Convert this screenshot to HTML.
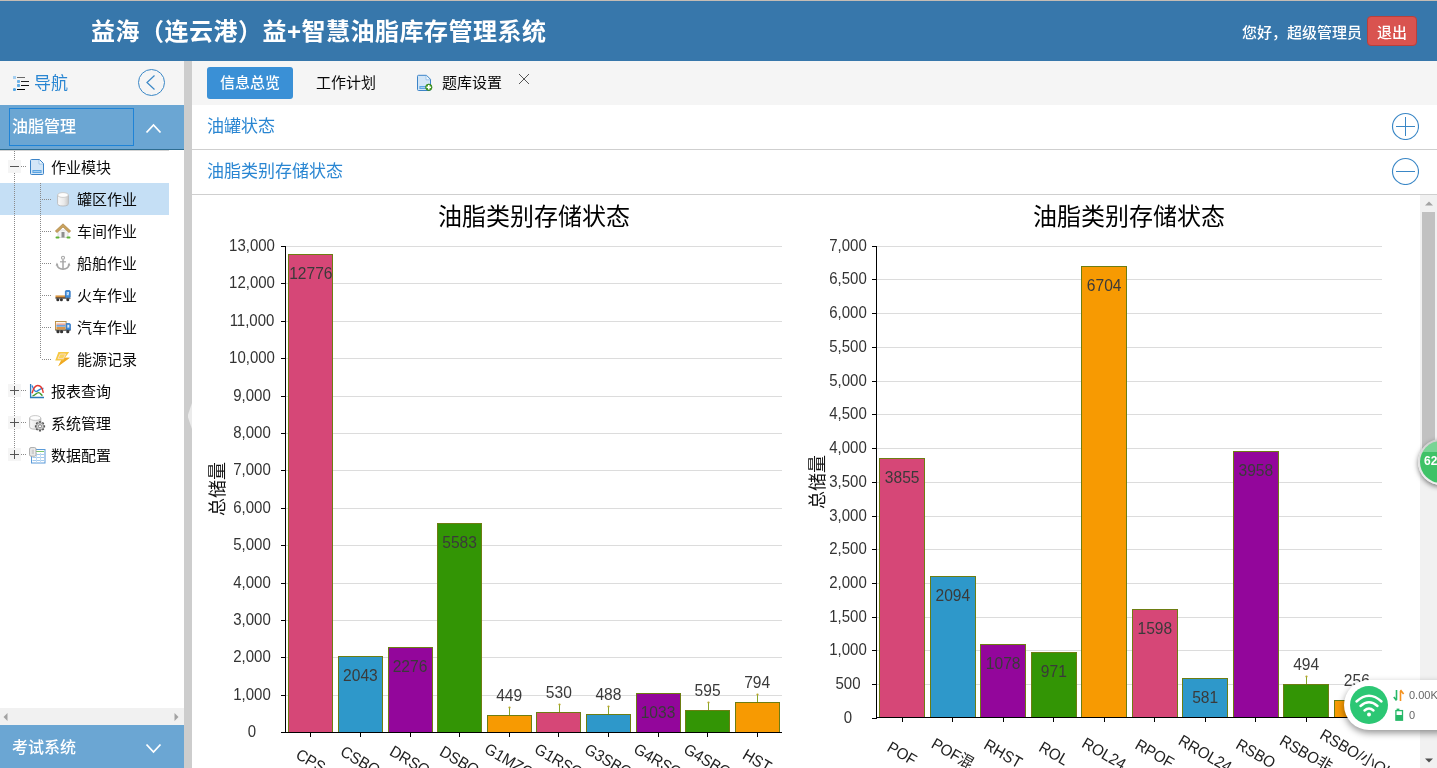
<!DOCTYPE html>
<html lang="zh-CN">
<head>
<meta charset="utf-8">
<title>益海（连云港）益+智慧油脂库存管理系统</title>
<style>
*{box-sizing:border-box;margin:0;padding:0}
html,body{width:1437px;height:768px;overflow:hidden;background:#fff}
body{position:relative;font-family:"Liberation Sans","Noto Sans CJK SC",sans-serif;color:#222;font-size:15px}
.abs{position:absolute}
#hdr{left:0;top:0;width:1437px;height:61px;background:#3777ab;border-top:1px solid #c5bcb4}
#title{left:91px;top:13px;font-size:24px;line-height:36px;font-weight:bold;color:#fff;white-space:nowrap;letter-spacing:0.5px}
#hello{right:75px;top:17px;font-size:15px;line-height:30px;color:#fff;font-weight:500;white-space:nowrap}
#logout{left:1367px;top:15px;width:50px;height:30px;background:#d9534f;border:1px solid #b8403c;border-radius:4px;color:#fff;font-size:15px;line-height:32px;text-align:center;font-weight:500}
#side{left:0;top:61px;width:184px;height:707px;background:#fff}
#navh{left:0;top:0;width:184px;height:44px;background:#f5f5f5}
#navt{left:34px;top:10px;font-size:17px;line-height:26px;color:#2a86d2}
.acc{left:0;width:184px;background:#6ba6d3;color:#fff;font-size:16px}
#acc1{top:44px;height:45px;border-bottom:1px solid #2e6d92}
#acc2{top:664px;height:43px}
#focus{left:9px;top:3px;width:125px;height:38px;border:1px solid #1f83d6}
.acct{left:12px;white-space:nowrap;font-weight:500}
#tree{left:0;top:89px;width:169px;height:557px;overflow:hidden}
.row{left:0;width:169px;height:32px;line-height:32px;font-size:15px;color:#0a0a0a;white-space:nowrap}
.row.sel{background:#c5dff5}
.row span{position:absolute;top:1px}
.vdot{width:1px;background-image:linear-gradient(#8a8a8a 50%,transparent 50%);background-size:1px 2px}
.hdot{height:1px;background-image:linear-gradient(90deg,#8a8a8a 50%,transparent 50%);background-size:2px 1px}
.exp{width:13px;height:13px;background:#f5f5f5}
.exp i{position:absolute;background:#555}
#hsb{left:0;top:647px;width:184px;height:17px;background:#f1f1f1}
#split{left:184px;top:61px;width:8px;height:707px;background:#cdcdcd}
#main{left:192px;top:61px;width:1245px;height:707px;background:#fff}
#tabs{left:0;top:0;width:1245px;height:44px;background:#f5f5f5}
.tab{top:6px;height:32px;line-height:32px;font-size:15px;color:#0a0a0a;white-space:nowrap}
#tab1{left:15px;width:86px;background:#3a90d6;color:#fff;border-radius:3px;text-align:center;font-weight:500}
.pan{left:0;width:1245px;height:45px;border-bottom:1px solid #cfcfcf;background:#fff}
.pan span{position:absolute;left:15px;top:9px;font-size:17px;line-height:26px;color:#2a86d2;white-space:nowrap}
#vsb{left:1420px;top:195px;width:17px;height:573px;background:#f1f1f1}
#thumb{left:2px;top:17px;width:13px;height:250px;background:#c1c1c1}
svg text{font-family:"Liberation Sans","Noto Sans CJK SC",sans-serif}
.yl{font-size:15px;fill:#333}
.vl{font-size:15px;fill:#3a3a3a}
.xl{font-size:15px;fill:#222}
.ct{font-size:24px;fill:#000}
.yt{font-size:18px;fill:#111}
</style>
</head>
<body>
<!-- header -->
<div id="hdr" class="abs">
  <div id="title" class="abs">益海（连云港）益+智慧油脂库存管理系统</div>
  <div id="hello" class="abs">您好，超级管理员</div>
  <div id="logout" class="abs">退出</div>
</div>

<!-- sidebar -->
<div id="side" class="abs">
  <div id="navh" class="abs">
    <svg class="abs" style="left:13px;top:15px" width="17" height="16" viewBox="0 0 17 16">
      <rect x="0" y="0" width="3" height="3" fill="#a5cff0"/><rect x="4" y="4" width="3" height="3" rx="0.8" fill="#6fb4e9"/><rect x="4" y="8" width="3" height="3" rx="0.8" fill="#5dabe6"/><circle cx="1.5" cy="13.5" r="1.6" fill="#4fa4e4"/>
      <rect x="4" y="1" width="8" height="1" fill="#6a6a6a"/><rect x="8" y="5" width="8" height="1" fill="#222"/><rect x="8" y="9" width="8" height="1" fill="#111"/><rect x="4" y="13" width="8" height="1" fill="#000"/>
    </svg>
    <div id="navt" class="abs">导航</div>
    <svg class="abs" style="left:138px;top:8px" width="28" height="28" viewBox="0 0 28 28"><circle cx="13.5" cy="13.5" r="13" fill="none" stroke="#3a87c6" stroke-width="1"/><path d="M16.5 6.5 L9 13.5 L16.5 20.5" fill="none" stroke="#3a87c6" stroke-width="1.2"/></svg>
  </div>
  <div id="acc1" class="abs acc">
    <div id="focus" class="abs"></div>
    <div class="abs acct" style="top:9px;line-height:26px">油脂管理</div>
    <svg class="abs" style="left:145px;top:18px" width="17" height="11" viewBox="0 0 17 11"><path d="M1.5 9.5 L8.5 2 L15.5 9.5" fill="none" stroke="#fff" stroke-width="1.8"/></svg>
  </div>
  <div class="abs" style="left:0;top:89px;width:169px;height:1px;background:#d4d4d4"></div>
  <div id="tree" class="abs">
    <div class="abs" style="left:0;top:33px;width:169px;height:32px;background:#c5dff5"></div>
    <div class="abs vdot" style="left:14px;top:1px;height:299px"></div>
    <div class="abs vdot" style="left:40px;top:33px;height:176px"></div>
    <div class="abs row" style="top:1px"><div class="abs exp" style="left:8px;top:9px"><i style="left:2px;top:6px;width:9px;height:1px"></i></div><div class="abs hdot" style="left:21px;top:15px;width:5px"></div><svg class="abs" style="left:29px;top:8px" width="16" height="16" viewBox="0 0 16 16"><path d="M1.5 1.5 Q1.5 0.5 2.5 0.5 H10.5 L14.5 4.5 V14.5 Q14.5 15.5 13.5 15.5 H2.5 Q1.5 15.5 1.5 14.5Z" fill="#d3e6f7" stroke="#3c84c8" stroke-width="1"/><path d="M10 1 V5 H14" fill="#f2f8fd" stroke="#8fbde6" stroke-width="0.8"/><rect x="3.4" y="11" width="9.2" height="3" fill="#5ba4e2"/><rect x="4.4" y="12" width="7.2" height="1" fill="#a6cff2"/></svg><span style="left:51px">作业模块</span></div>
    <div class="abs row" style="top:33px"><div class="abs hdot" style="left:42px;top:16px;width:9px"></div><svg class="abs" style="left:55px;top:8px" width="16" height="16" viewBox="0 0 16 16"><defs><linearGradient id="cg" x1="0" x2="1"><stop offset="0" stop-color="#fafafa"/><stop offset="0.6" stop-color="#e9e9e9"/><stop offset="1" stop-color="#c9c9c9"/></linearGradient></defs><path d="M2.6 4 V12.6 Q2.6 15 8 15 Q13.4 15 13.4 12.6 V4Z" fill="url(#cg)" stroke="#b5b5b5" stroke-width="0.8"/><ellipse cx="8" cy="4" rx="5.4" ry="2.4" fill="#fdfdfd" stroke="#c4c4c4" stroke-width="0.8"/></svg><span style="left:77px">罐区作业</span></div>
    <div class="abs row" style="top:65px"><div class="abs hdot" style="left:42px;top:16px;width:9px"></div><svg class="abs" style="left:55px;top:8px" width="16" height="16" viewBox="0 0 16 16"><rect x="3" y="7" width="10" height="7.5" fill="#f4f4f4" stroke="#c9c9c9" stroke-width="0.6"/><rect x="6.5" y="9" width="3" height="5.5" fill="#8e8e8e"/><path d="M0.3 8 L8 0.8 L15.7 8 L14 9.6 L8 4 L2 9.6Z" fill="#c9a25e" stroke="#a57b35" stroke-width="0.6"/><rect x="0.5" y="13.5" width="4" height="2" rx="1" fill="#5fb336"/><rect x="11.5" y="13.5" width="4" height="2" rx="1" fill="#5fb336"/></svg><span style="left:77px">车间作业</span></div>
    <div class="abs row" style="top:97px"><div class="abs hdot" style="left:42px;top:16px;width:9px"></div><svg class="abs" style="left:55px;top:8px" width="16" height="16" viewBox="0 0 16 16"><g fill="none" stroke="#a6a6a6" stroke-width="1.5"><circle cx="8" cy="2.8" r="1.5" stroke-width="1.1"/><path d="M8 4.4 V14"/><path d="M5 6.8 H11" stroke-width="1.2"/><path d="M1.8 9.4 Q2.6 14 8 14.2 Q13.4 14 14.2 9.4"/></g><path d="M0.6 10.6 L1.9 7.6 L3.6 10.4Z M15.4 10.6 L14.1 7.6 L12.4 10.4Z" fill="#a6a6a6"/></svg><span style="left:77px">船舶作业</span></div>
    <div class="abs row" style="top:129px"><div class="abs hdot" style="left:42px;top:16px;width:9px"></div><svg class="abs" style="left:55px;top:8px" width="16" height="16" viewBox="0 0 16 16"><rect x="0.5" y="8.4" width="10.5" height="1.6" fill="#d9953f"/><rect x="0.5" y="10" width="10.5" height="0.9" fill="#7a4a1c"/><rect x="10.4" y="3.6" width="4.8" height="7.2" rx="0.8" fill="#3d8ddb" stroke="#2a6fbd" stroke-width="0.8"/><path d="M11.7 5 H13.9 V8.2 H11.7Z" fill="#dcebfa"/><path d="M12 5.2 L13.6 8" stroke="#7fb1e6" stroke-width="0.6"/><rect x="0.5" y="10.8" width="15" height="1" fill="#555"/><circle cx="2.8" cy="12.7" r="1.5" fill="#333"/><circle cx="6.4" cy="12.7" r="1.5" fill="#333"/><circle cx="12.8" cy="12.7" r="1.5" fill="#333"/></svg><span style="left:77px">火车作业</span></div>
    <div class="abs row" style="top:161px"><div class="abs hdot" style="left:42px;top:16px;width:9px"></div><svg class="abs" style="left:55px;top:8px" width="16" height="16" viewBox="0 0 16 16"><rect x="0.5" y="2.5" width="10.6" height="8.2" fill="#fbf6ea" stroke="#b98a3e" stroke-width="0.9"/><rect x="1.4" y="4.6" width="8.8" height="1.1" fill="#e58b7a"/><rect x="1.4" y="6.2" width="8.8" height="1.4" fill="#4f8fd8"/><rect x="1.4" y="8" width="8.8" height="2" fill="#d9954a"/><path d="M11.2 4.6 H14.4 Q15.4 4.6 15.4 5.6 V11 H11.2Z" fill="#3d8ddb" stroke="#2a6fbd" stroke-width="0.8"/><path d="M12.3 5.8 H14.3 V8.6 H12.3Z" fill="#dcebfa"/><rect x="0.5" y="10.8" width="15" height="1" fill="#555"/><circle cx="3" cy="12.7" r="1.6" fill="#333"/><circle cx="6.6" cy="12.7" r="1.6" fill="#333"/><circle cx="12.8" cy="12.7" r="1.6" fill="#333"/></svg><span style="left:77px">汽车作业</span></div>
    <div class="abs row" style="top:193px"><div class="abs hdot" style="left:42px;top:16px;width:9px"></div><svg class="abs" style="left:55px;top:8px" width="16" height="16" viewBox="0 0 16 16"><path d="M3.4 1 H14.2 L10 6.8 H14.8 L3.2 15.2 L6.2 9.4 H0.2Z" fill="#f6c943"/><path d="M10 6.8 H14.8 L3.2 15.2 L6.2 9.4 H8.2Z" fill="#eea21c" opacity="0.85"/><path d="M5.2 3 H10.6 L8.4 7.6 H3Z" fill="#f8d35e" stroke="#f9dcc6" stroke-width="0.9"/></svg><span style="left:77px">能源记录</span></div>
    <div class="abs row" style="top:225px"><div class="abs exp" style="left:8px;top:9px"><i style="left:2px;top:6px;width:9px;height:1px"></i><i style="left:6px;top:2px;width:1px;height:9px"></i></div><div class="abs hdot" style="left:21px;top:15px;width:5px"></div><svg class="abs" style="left:29px;top:8px" width="16" height="16" viewBox="0 0 16 16"><path d="M1.6 1 V14.5 H15" fill="none" stroke="#2b7ab9" stroke-width="1.3"/><path d="M3 2.6 C4 5 5.5 8.6 7 8.6 C9 8.6 10.5 5 14.5 5.4" fill="none" stroke="#2f86d8" stroke-width="1.4"/><path d="M3 10.2 C4.5 5 6.5 2.5 8.8 2.5 C11 2.5 13.5 4.5 14.3 9.8" fill="none" stroke="#e3382f" stroke-width="1.4"/><path d="M3.5 12.7 C6 12.7 7.5 9.6 9.5 9.6 C11.5 9.6 12 12 13.5 12.7" fill="none" stroke="#3f9a2c" stroke-width="1.4"/></svg><span style="left:51px">报表查询</span></div>
    <div class="abs row" style="top:257px"><div class="abs exp" style="left:8px;top:9px"><i style="left:2px;top:6px;width:9px;height:1px"></i><i style="left:6px;top:2px;width:1px;height:9px"></i></div><div class="abs hdot" style="left:21px;top:15px;width:5px"></div><svg class="abs" style="left:29px;top:8px" width="17" height="17" viewBox="0 0 17 17"><path d="M0.6 3 V11.6 Q0.6 14.2 6.2 14.2 Q11.8 14.2 11.8 11.6 V3Z" fill="url(#cg)" stroke="#a9a9a9" stroke-width="0.8"/><ellipse cx="6.2" cy="3" rx="5.6" ry="2.4" fill="#fdfdfd" stroke="#bbb" stroke-width="0.8"/><g transform="translate(11 11.3)"><g fill="#555"><rect x="-1.1" y="-5.1" width="2.2" height="2.6" rx="0.5" transform="rotate(0)"/><rect x="-1.1" y="-5.1" width="2.2" height="2.6" rx="0.5" transform="rotate(45)"/><rect x="-1.1" y="-5.1" width="2.2" height="2.6" rx="0.5" transform="rotate(90)"/><rect x="-1.1" y="-5.1" width="2.2" height="2.6" rx="0.5" transform="rotate(135)"/><rect x="-1.1" y="-5.1" width="2.2" height="2.6" rx="0.5" transform="rotate(180)"/><rect x="-1.1" y="-5.1" width="2.2" height="2.6" rx="0.5" transform="rotate(225)"/><rect x="-1.1" y="-5.1" width="2.2" height="2.6" rx="0.5" transform="rotate(270)"/><rect x="-1.1" y="-5.1" width="2.2" height="2.6" rx="0.5" transform="rotate(315)"/></g><circle r="3.5" fill="#dadada" stroke="#8c8c8c" stroke-width="0.8"/><circle r="1.6" fill="#fff" stroke="#787878" stroke-width="0.9"/></g></svg><span style="left:51px">系统管理</span></div>
    <div class="abs row" style="top:289px"><div class="abs exp" style="left:8px;top:9px"><i style="left:2px;top:6px;width:9px;height:1px"></i><i style="left:6px;top:2px;width:1px;height:9px"></i></div><div class="abs hdot" style="left:21px;top:15px;width:5px"></div><svg class="abs" style="left:29px;top:8px" width="17" height="17" viewBox="0 0 17 17"><rect x="2.5" y="2.5" width="13.5" height="13.5" fill="#fff" stroke="#5a9ad9" stroke-width="1"/><rect x="7" y="4" width="8" height="1" fill="#7cc66a"/><g stroke="#a3caee" stroke-width="1"><path d="M3.5 7.5 H15 M3.5 10.5 H15 M3.5 13.5 H15"/><path d="M7.5 6 V15.5 M11.5 6 V15.5" stroke="#c3dcf4"/></g><rect x="0.6" y="0.6" width="6.4" height="8.6" rx="1.4" fill="#ececec" stroke="#a2a2a2" stroke-width="0.9"/><rect x="2.6" y="2.6" width="2.4" height="4.6" fill="#cfcfcf"/></svg><span style="left:51px">数据配置</span></div>
  </div>
  <div id="hsb" class="abs">
    <svg class="abs" style="left:3px;top:5px" width="5" height="8" viewBox="0 0 5 8"><path d="M4.5 0 L0.5 4 L4.5 8Z" fill="#a3a3a3"/></svg>
    <svg class="abs" style="left:174px;top:5px" width="5" height="8" viewBox="0 0 5 8"><path d="M0.5 0 L4.5 4 L0.5 8Z" fill="#a3a3a3"/></svg>
  </div>
  <div id="acc2" class="abs acc">
    <div class="abs acct" style="top:10px;line-height:26px">考试系统</div>
    <svg class="abs" style="left:145px;top:18px" width="17" height="11" viewBox="0 0 17 11"><path d="M1.5 1.5 L8.5 9 L15.5 1.5" fill="none" stroke="#fff" stroke-width="1.8"/></svg>
  </div>
</div>

<div id="split" class="abs"><div class="abs" style="left:3.5px;top:342px;width:4.5px;height:26px;background:#ebebeb;clip-path:polygon(100% 0,0 50%,100% 100%)"></div></div>

<!-- main -->
<div id="main" class="abs">
  <div id="tabs" class="abs">
    <div id="tab1" class="abs tab">信息总览</div>
    <div class="abs tab" style="left:124px">工作计划</div>
    <div class="abs tab" style="left:250px">题库设置</div>
    <svg class="abs" style="left:224px;top:13px" width="18" height="18" viewBox="0 0 18 18"><path d="M1.5 2.3 Q1.5 1.3 2.5 1.3 H10.5 L14.5 5.3 V15.5 Q14.5 16.5 13.5 16.5 H2.5 Q1.5 16.5 1.5 15.5Z" fill="#d3e6f7" stroke="#3c84c8" stroke-width="1"/><path d="M10 1.8 V5.8 H14" fill="#f2f8fd" stroke="#8fbde6" stroke-width="0.8"/><rect x="3.4" y="12" width="9.2" height="3" fill="#5ba4e2"/><rect x="4.4" y="13" width="7.2" height="1" fill="#a6cff2"/><circle cx="12.8" cy="13.3" r="3.2" fill="#4aa22a" stroke="#2f7d18" stroke-width="0.7"/><path d="M10.6 13.3 H15 M12.8 11.1 V15.5" stroke="#fff" stroke-width="1.6"/></svg>
    <svg class="abs" style="left:326px;top:12px" width="12" height="12" viewBox="0 0 12 12"><path d="M1 1 L11 11 M11 1 L1 11" stroke="#555" stroke-width="1" fill="none"/></svg>
  </div>
  <div class="abs pan" style="top:44px"><span>油罐状态</span>
    <svg class="abs" style="left:1199px;top:7px" width="28" height="28" viewBox="0 0 28 28"><circle cx="14.5" cy="14.5" r="13" fill="none" stroke="#3a87c6" stroke-width="1.15"/><path d="M5 14.5 H24 M14.5 5 V24" stroke="#3a87c6" stroke-width="1" fill="none"/></svg>
  </div>
  <div class="abs pan" style="top:89px"><span>油脂类别存储状态</span>
    <svg class="abs" style="left:1199px;top:7px" width="28" height="28" viewBox="0 0 28 28"><circle cx="14.5" cy="14.5" r="13" fill="none" stroke="#3a87c6" stroke-width="1.15"/><path d="M5 14.5 H24" stroke="#3a87c6" stroke-width="1" fill="none"/></svg>
  </div>
</div>

<!-- charts (page coordinates) -->
<svg class="abs" style="left:0;top:195px" width="1420" height="573" viewBox="0 195 1420 573">
<line x1="281" y1="732.5" x2="286" y2="732.5" stroke="#000" stroke-width="1"/>
<text transform="translate(252,737.0) scale(1,1.07)" text-anchor="middle" class="yl">0</text>
<line x1="286" y1="695.5" x2="782" y2="695.5" stroke="#dcdcdc" stroke-width="1"/>
<line x1="281" y1="695.5" x2="286" y2="695.5" stroke="#000" stroke-width="1"/>
<text transform="translate(252,700.0) scale(1,1.07)" text-anchor="middle" class="yl">1,000</text>
<line x1="286" y1="657.5" x2="782" y2="657.5" stroke="#dcdcdc" stroke-width="1"/>
<line x1="281" y1="657.5" x2="286" y2="657.5" stroke="#000" stroke-width="1"/>
<text transform="translate(252,662.0) scale(1,1.07)" text-anchor="middle" class="yl">2,000</text>
<line x1="286" y1="620.5" x2="782" y2="620.5" stroke="#dcdcdc" stroke-width="1"/>
<line x1="281" y1="620.5" x2="286" y2="620.5" stroke="#000" stroke-width="1"/>
<text transform="translate(252,625.0) scale(1,1.07)" text-anchor="middle" class="yl">3,000</text>
<line x1="286" y1="583.5" x2="782" y2="583.5" stroke="#dcdcdc" stroke-width="1"/>
<line x1="281" y1="583.5" x2="286" y2="583.5" stroke="#000" stroke-width="1"/>
<text transform="translate(252,588.0) scale(1,1.07)" text-anchor="middle" class="yl">4,000</text>
<line x1="286" y1="545.5" x2="782" y2="545.5" stroke="#dcdcdc" stroke-width="1"/>
<line x1="281" y1="545.5" x2="286" y2="545.5" stroke="#000" stroke-width="1"/>
<text transform="translate(252,550.0) scale(1,1.07)" text-anchor="middle" class="yl">5,000</text>
<line x1="286" y1="508.5" x2="782" y2="508.5" stroke="#dcdcdc" stroke-width="1"/>
<line x1="281" y1="508.5" x2="286" y2="508.5" stroke="#000" stroke-width="1"/>
<text transform="translate(252,513.0) scale(1,1.07)" text-anchor="middle" class="yl">6,000</text>
<line x1="286" y1="470.5" x2="782" y2="470.5" stroke="#dcdcdc" stroke-width="1"/>
<line x1="281" y1="470.5" x2="286" y2="470.5" stroke="#000" stroke-width="1"/>
<text transform="translate(252,475.0) scale(1,1.07)" text-anchor="middle" class="yl">7,000</text>
<line x1="286" y1="433.5" x2="782" y2="433.5" stroke="#dcdcdc" stroke-width="1"/>
<line x1="281" y1="433.5" x2="286" y2="433.5" stroke="#000" stroke-width="1"/>
<text transform="translate(252,438.0) scale(1,1.07)" text-anchor="middle" class="yl">8,000</text>
<line x1="286" y1="396.5" x2="782" y2="396.5" stroke="#dcdcdc" stroke-width="1"/>
<line x1="281" y1="396.5" x2="286" y2="396.5" stroke="#000" stroke-width="1"/>
<text transform="translate(252,401.0) scale(1,1.07)" text-anchor="middle" class="yl">9,000</text>
<line x1="286" y1="358.5" x2="782" y2="358.5" stroke="#dcdcdc" stroke-width="1"/>
<line x1="281" y1="358.5" x2="286" y2="358.5" stroke="#000" stroke-width="1"/>
<text transform="translate(252,363.0) scale(1,1.07)" text-anchor="middle" class="yl">10,000</text>
<line x1="286" y1="321.5" x2="782" y2="321.5" stroke="#dcdcdc" stroke-width="1"/>
<line x1="281" y1="321.5" x2="286" y2="321.5" stroke="#000" stroke-width="1"/>
<text transform="translate(252,326.0) scale(1,1.07)" text-anchor="middle" class="yl">11,000</text>
<line x1="286" y1="283.5" x2="782" y2="283.5" stroke="#dcdcdc" stroke-width="1"/>
<line x1="281" y1="283.5" x2="286" y2="283.5" stroke="#000" stroke-width="1"/>
<text transform="translate(252,288.0) scale(1,1.07)" text-anchor="middle" class="yl">12,000</text>
<line x1="286" y1="246.5" x2="782" y2="246.5" stroke="#dcdcdc" stroke-width="1"/>
<line x1="281" y1="246.5" x2="286" y2="246.5" stroke="#000" stroke-width="1"/>
<text transform="translate(252,251.0) scale(1,1.07)" text-anchor="middle" class="yl">13,000</text>
<rect x="288.5" y="254.5" width="44" height="478" fill="#d64777" stroke="#6d7d12" stroke-width="1"/>
<text transform="translate(310.8,278.5) scale(1.04,1.07)" text-anchor="middle" class="vl">12776</text>
<line x1="310.5" y1="732.5" x2="310.5" y2="737" stroke="#000" stroke-width="1"/>
<text transform="translate(310.8,760.6) rotate(30) scale(1,1.07)" text-anchor="middle" y="5.2" class="xl">CPS</text>
<rect x="338.5" y="656.5" width="44" height="76" fill="#2e98ca" stroke="#6d7d12" stroke-width="1"/>
<text transform="translate(360.4,680.5) scale(1.04,1.07)" text-anchor="middle" class="vl">2043</text>
<line x1="360.5" y1="732.5" x2="360.5" y2="737" stroke="#000" stroke-width="1"/>
<text transform="translate(360.4,760.6) rotate(30) scale(1,1.07)" text-anchor="middle" y="5.2" class="xl">CSBO</text>
<rect x="388.5" y="647.5" width="44" height="85" fill="#93069b" stroke="#6d7d12" stroke-width="1"/>
<text transform="translate(410.0,671.5) scale(1.04,1.07)" text-anchor="middle" class="vl">2276</text>
<line x1="410.5" y1="732.5" x2="410.5" y2="737" stroke="#000" stroke-width="1"/>
<text transform="translate(410.0,760.6) rotate(30) scale(1,1.07)" text-anchor="middle" y="5.2" class="xl">DRSO</text>
<rect x="437.5" y="523.5" width="44" height="209" fill="#339505" stroke="#6d7d12" stroke-width="1"/>
<text transform="translate(459.6,547.5) scale(1.04,1.07)" text-anchor="middle" class="vl">5583</text>
<line x1="459.5" y1="732.5" x2="459.5" y2="737" stroke="#000" stroke-width="1"/>
<text transform="translate(459.6,760.6) rotate(30) scale(1,1.07)" text-anchor="middle" y="5.2" class="xl">DSBO</text>
<rect x="487.5" y="715.5" width="44" height="17" fill="#f79a02" stroke="#6d7d12" stroke-width="1"/>
<line x1="509.5" y1="715" x2="509.5" y2="708" stroke="#86a52a" stroke-width="1"/>
<circle cx="509.5" cy="707.5" r="1.1" fill="#b8a62a"/>
<text transform="translate(509.2,700.5) scale(1.04,1.07)" text-anchor="middle" class="vl">449</text>
<line x1="509.5" y1="732.5" x2="509.5" y2="737" stroke="#000" stroke-width="1"/>
<text transform="translate(509.2,760.6) rotate(30) scale(1,1.07)" text-anchor="middle" y="5.2" class="xl">G1MZO</text>
<rect x="536.5" y="712.5" width="44" height="20" fill="#d64777" stroke="#6d7d12" stroke-width="1"/>
<line x1="559.5" y1="712" x2="559.5" y2="705" stroke="#86a52a" stroke-width="1"/>
<circle cx="559.5" cy="704.5" r="1.1" fill="#b8a62a"/>
<text transform="translate(558.8,697.5) scale(1.04,1.07)" text-anchor="middle" class="vl">530</text>
<line x1="558.5" y1="732.5" x2="558.5" y2="737" stroke="#000" stroke-width="1"/>
<text transform="translate(558.8,760.6) rotate(30) scale(1,1.07)" text-anchor="middle" y="5.2" class="xl">G1RSO</text>
<rect x="586.5" y="714.5" width="44" height="18" fill="#2e98ca" stroke="#6d7d12" stroke-width="1"/>
<line x1="608.5" y1="714" x2="608.5" y2="707" stroke="#86a52a" stroke-width="1"/>
<circle cx="608.5" cy="706.5" r="1.1" fill="#b8a62a"/>
<text transform="translate(608.4,699.5) scale(1.04,1.07)" text-anchor="middle" class="vl">488</text>
<line x1="608.5" y1="732.5" x2="608.5" y2="737" stroke="#000" stroke-width="1"/>
<text transform="translate(608.4,760.6) rotate(30) scale(1,1.07)" text-anchor="middle" y="5.2" class="xl">G3SBO</text>
<rect x="636.5" y="693.5" width="44" height="39" fill="#93069b" stroke="#6d7d12" stroke-width="1"/>
<text transform="translate(658.0,717.5) scale(1.04,1.07)" text-anchor="middle" class="vl">1033</text>
<line x1="658.5" y1="732.5" x2="658.5" y2="737" stroke="#000" stroke-width="1"/>
<text transform="translate(658.0,760.6) rotate(30) scale(1,1.07)" text-anchor="middle" y="5.2" class="xl">G4RSO</text>
<rect x="685.5" y="710.5" width="44" height="22" fill="#339505" stroke="#6d7d12" stroke-width="1"/>
<line x1="708.5" y1="710" x2="708.5" y2="703" stroke="#86a52a" stroke-width="1"/>
<circle cx="708.5" cy="702.5" r="1.1" fill="#b8a62a"/>
<text transform="translate(707.6,695.5) scale(1.04,1.07)" text-anchor="middle" class="vl">595</text>
<line x1="707.5" y1="732.5" x2="707.5" y2="737" stroke="#000" stroke-width="1"/>
<text transform="translate(707.6,760.6) rotate(30) scale(1,1.07)" text-anchor="middle" y="5.2" class="xl">G4SBO</text>
<rect x="735.5" y="702.5" width="44" height="30" fill="#f79a02" stroke="#6d7d12" stroke-width="1"/>
<line x1="757.5" y1="702" x2="757.5" y2="695" stroke="#86a52a" stroke-width="1"/>
<circle cx="757.5" cy="694.5" r="1.1" fill="#b8a62a"/>
<text transform="translate(757.2,687.5) scale(1.04,1.07)" text-anchor="middle" class="vl">794</text>
<line x1="757.5" y1="732.5" x2="757.5" y2="737" stroke="#000" stroke-width="1"/>
<text transform="translate(757.2,760.6) rotate(30) scale(1,1.07)" text-anchor="middle" y="5.2" class="xl">HST</text>
<line x1="285.5" y1="246" x2="285.5" y2="733" stroke="#000" stroke-width="1"/>
<line x1="285" y1="732.5" x2="782" y2="732.5" stroke="#000" stroke-width="1"/>
<text x="534" y="225" text-anchor="middle" class="ct">油脂类别存储状态</text>
<text transform="translate(224,489) rotate(-90)" text-anchor="middle" class="yt">总储量</text>
<line x1="872" y1="718.5" x2="877" y2="718.5" stroke="#000" stroke-width="1"/>
<text transform="translate(848,723.0) scale(1,1.07)" text-anchor="middle" class="yl">0</text>
<line x1="877" y1="684.5" x2="1382" y2="684.5" stroke="#dcdcdc" stroke-width="1"/>
<line x1="872" y1="684.5" x2="877" y2="684.5" stroke="#000" stroke-width="1"/>
<text transform="translate(848,689.0) scale(1,1.07)" text-anchor="middle" class="yl">500</text>
<line x1="877" y1="650.5" x2="1382" y2="650.5" stroke="#dcdcdc" stroke-width="1"/>
<line x1="872" y1="650.5" x2="877" y2="650.5" stroke="#000" stroke-width="1"/>
<text transform="translate(848,655.0) scale(1,1.07)" text-anchor="middle" class="yl">1,000</text>
<line x1="877" y1="617.5" x2="1382" y2="617.5" stroke="#dcdcdc" stroke-width="1"/>
<line x1="872" y1="617.5" x2="877" y2="617.5" stroke="#000" stroke-width="1"/>
<text transform="translate(848,622.0) scale(1,1.07)" text-anchor="middle" class="yl">1,500</text>
<line x1="877" y1="583.5" x2="1382" y2="583.5" stroke="#dcdcdc" stroke-width="1"/>
<line x1="872" y1="583.5" x2="877" y2="583.5" stroke="#000" stroke-width="1"/>
<text transform="translate(848,588.0) scale(1,1.07)" text-anchor="middle" class="yl">2,000</text>
<line x1="877" y1="549.5" x2="1382" y2="549.5" stroke="#dcdcdc" stroke-width="1"/>
<line x1="872" y1="549.5" x2="877" y2="549.5" stroke="#000" stroke-width="1"/>
<text transform="translate(848,554.0) scale(1,1.07)" text-anchor="middle" class="yl">2,500</text>
<line x1="877" y1="516.5" x2="1382" y2="516.5" stroke="#dcdcdc" stroke-width="1"/>
<line x1="872" y1="516.5" x2="877" y2="516.5" stroke="#000" stroke-width="1"/>
<text transform="translate(848,521.0) scale(1,1.07)" text-anchor="middle" class="yl">3,000</text>
<line x1="877" y1="482.5" x2="1382" y2="482.5" stroke="#dcdcdc" stroke-width="1"/>
<line x1="872" y1="482.5" x2="877" y2="482.5" stroke="#000" stroke-width="1"/>
<text transform="translate(848,487.0) scale(1,1.07)" text-anchor="middle" class="yl">3,500</text>
<line x1="877" y1="448.5" x2="1382" y2="448.5" stroke="#dcdcdc" stroke-width="1"/>
<line x1="872" y1="448.5" x2="877" y2="448.5" stroke="#000" stroke-width="1"/>
<text transform="translate(848,453.0) scale(1,1.07)" text-anchor="middle" class="yl">4,000</text>
<line x1="877" y1="414.5" x2="1382" y2="414.5" stroke="#dcdcdc" stroke-width="1"/>
<line x1="872" y1="414.5" x2="877" y2="414.5" stroke="#000" stroke-width="1"/>
<text transform="translate(848,419.0) scale(1,1.07)" text-anchor="middle" class="yl">4,500</text>
<line x1="877" y1="381.5" x2="1382" y2="381.5" stroke="#dcdcdc" stroke-width="1"/>
<line x1="872" y1="381.5" x2="877" y2="381.5" stroke="#000" stroke-width="1"/>
<text transform="translate(848,386.0) scale(1,1.07)" text-anchor="middle" class="yl">5,000</text>
<line x1="877" y1="347.5" x2="1382" y2="347.5" stroke="#dcdcdc" stroke-width="1"/>
<line x1="872" y1="347.5" x2="877" y2="347.5" stroke="#000" stroke-width="1"/>
<text transform="translate(848,352.0) scale(1,1.07)" text-anchor="middle" class="yl">5,500</text>
<line x1="877" y1="313.5" x2="1382" y2="313.5" stroke="#dcdcdc" stroke-width="1"/>
<line x1="872" y1="313.5" x2="877" y2="313.5" stroke="#000" stroke-width="1"/>
<text transform="translate(848,318.0) scale(1,1.07)" text-anchor="middle" class="yl">6,000</text>
<line x1="877" y1="279.5" x2="1382" y2="279.5" stroke="#dcdcdc" stroke-width="1"/>
<line x1="872" y1="279.5" x2="877" y2="279.5" stroke="#000" stroke-width="1"/>
<text transform="translate(848,284.0) scale(1,1.07)" text-anchor="middle" class="yl">6,500</text>
<line x1="877" y1="246.5" x2="1382" y2="246.5" stroke="#dcdcdc" stroke-width="1"/>
<line x1="872" y1="246.5" x2="877" y2="246.5" stroke="#000" stroke-width="1"/>
<text transform="translate(848,251.0) scale(1,1.07)" text-anchor="middle" class="yl">7,000</text>
<rect x="879.5" y="458.5" width="45" height="259" fill="#d64777" stroke="#6d7d12" stroke-width="1"/>
<text transform="translate(902.2,482.5) scale(1.04,1.07)" text-anchor="middle" class="vl">3855</text>
<line x1="902.5" y1="717.5" x2="902.5" y2="722" stroke="#000" stroke-width="1"/>
<text transform="translate(902.2,753.5) rotate(30) scale(1,1.07)" text-anchor="middle" y="5.2" class="xl">POF</text>
<rect x="930.5" y="576.5" width="45" height="141" fill="#2e98ca" stroke="#6d7d12" stroke-width="1"/>
<text transform="translate(952.8,600.5) scale(1.04,1.07)" text-anchor="middle" class="vl">2094</text>
<line x1="952.5" y1="717.5" x2="952.5" y2="722" stroke="#000" stroke-width="1"/>
<text transform="translate(952.8,753.5) rotate(30) scale(1,1.07)" text-anchor="middle" y="5.2" class="xl">POF混</text>
<rect x="980.5" y="644.5" width="45" height="73" fill="#93069b" stroke="#6d7d12" stroke-width="1"/>
<text transform="translate(1003.2,668.5) scale(1.04,1.07)" text-anchor="middle" class="vl">1078</text>
<line x1="1003.5" y1="717.5" x2="1003.5" y2="722" stroke="#000" stroke-width="1"/>
<text transform="translate(1003.2,753.5) rotate(30) scale(1,1.07)" text-anchor="middle" y="5.2" class="xl">RHST</text>
<rect x="1031.5" y="652.5" width="45" height="65" fill="#339505" stroke="#6d7d12" stroke-width="1"/>
<text transform="translate(1053.8,676.5) scale(1.04,1.07)" text-anchor="middle" class="vl">971</text>
<line x1="1053.5" y1="717.5" x2="1053.5" y2="722" stroke="#000" stroke-width="1"/>
<text transform="translate(1053.8,753.5) rotate(30) scale(1,1.07)" text-anchor="middle" y="5.2" class="xl">ROL</text>
<rect x="1081.5" y="266.5" width="45" height="451" fill="#f79a02" stroke="#6d7d12" stroke-width="1"/>
<text transform="translate(1104.2,290.5) scale(1.04,1.07)" text-anchor="middle" class="vl">6704</text>
<line x1="1104.5" y1="717.5" x2="1104.5" y2="722" stroke="#000" stroke-width="1"/>
<text transform="translate(1104.2,753.5) rotate(30) scale(1,1.07)" text-anchor="middle" y="5.2" class="xl">ROL24</text>
<rect x="1132.5" y="609.5" width="45" height="108" fill="#d64777" stroke="#6d7d12" stroke-width="1"/>
<text transform="translate(1154.8,633.5) scale(1.04,1.07)" text-anchor="middle" class="vl">1598</text>
<line x1="1154.5" y1="717.5" x2="1154.5" y2="722" stroke="#000" stroke-width="1"/>
<text transform="translate(1154.8,753.5) rotate(30) scale(1,1.07)" text-anchor="middle" y="5.2" class="xl">RPOF</text>
<rect x="1182.5" y="678.5" width="45" height="39" fill="#2e98ca" stroke="#6d7d12" stroke-width="1"/>
<text transform="translate(1205.2,702.5) scale(1.04,1.07)" text-anchor="middle" class="vl">581</text>
<line x1="1205.5" y1="717.5" x2="1205.5" y2="722" stroke="#000" stroke-width="1"/>
<text transform="translate(1205.2,753.5) rotate(30) scale(1,1.07)" text-anchor="middle" y="5.2" class="xl">RROL24</text>
<rect x="1233.5" y="451.5" width="45" height="266" fill="#93069b" stroke="#6d7d12" stroke-width="1"/>
<text transform="translate(1255.8,475.5) scale(1.04,1.07)" text-anchor="middle" class="vl">3958</text>
<line x1="1255.5" y1="717.5" x2="1255.5" y2="722" stroke="#000" stroke-width="1"/>
<text transform="translate(1255.8,753.5) rotate(30) scale(1,1.07)" text-anchor="middle" y="5.2" class="xl">RSBO</text>
<rect x="1283.5" y="684.5" width="45" height="33" fill="#339505" stroke="#6d7d12" stroke-width="1"/>
<line x1="1306.5" y1="684" x2="1306.5" y2="677" stroke="#86a52a" stroke-width="1"/>
<circle cx="1306.5" cy="676.5" r="1.1" fill="#b8a62a"/>
<text transform="translate(1306.2,669.5) scale(1.04,1.07)" text-anchor="middle" class="vl">494</text>
<line x1="1306.5" y1="717.5" x2="1306.5" y2="722" stroke="#000" stroke-width="1"/>
<text transform="translate(1306.2,753.5) rotate(30) scale(1,1.07)" text-anchor="middle" y="5.2" class="xl">RSBO非</text>
<rect x="1334.5" y="700.5" width="45" height="17" fill="#f79a02" stroke="#6d7d12" stroke-width="1"/>
<line x1="1357.5" y1="700" x2="1357.5" y2="693" stroke="#86a52a" stroke-width="1"/>
<circle cx="1357.5" cy="692.5" r="1.1" fill="#b8a62a"/>
<text transform="translate(1356.8,685.5) scale(1.04,1.07)" text-anchor="middle" class="vl">256</text>
<line x1="1356.5" y1="717.5" x2="1356.5" y2="722" stroke="#000" stroke-width="1"/>
<text transform="translate(1356.8,753.5) rotate(30) scale(1,1.07)" text-anchor="middle" y="5.2" class="xl">RSBO/小OL</text>
<line x1="876.5" y1="246" x2="876.5" y2="718" stroke="#000" stroke-width="1"/>
<line x1="876" y1="717.5" x2="1382" y2="717.5" stroke="#000" stroke-width="1"/>
<text x="1129" y="225" text-anchor="middle" class="ct">油脂类别存储状态</text>
<text transform="translate(824,482) rotate(-90)" text-anchor="middle" class="yt">总储量</text>
</svg>

<div id="vsb" class="abs">
  <div id="thumb" class="abs"></div>
  <svg class="abs" style="left:5px;top:6px" width="8" height="5" viewBox="0 0 8 5"><path d="M0 4.5 L4 0.5 L8 4.5Z" fill="#a3a3a3"/></svg>
  <svg class="abs" style="left:5px;top:563px" width="8" height="5" viewBox="0 0 8 5"><path d="M0 0.5 L4 4.5 L8 0.5Z" fill="#505050"/></svg>
</div>

<!-- floating widgets -->
<div class="abs" style="left:1418px;top:439px;width:46px;height:46px;border-radius:50%;background:linear-gradient(#cfcfcf,#f2f2f2);box-shadow:0 2px 5px rgba(0,0,0,.5)">
  <div class="abs" style="left:2px;top:2px;width:42px;height:42px;border-radius:50%;background:#3fc267;overflow:hidden"><div class="abs" style="left:0;top:0;width:42px;height:11px;background:rgba(255,255,255,.3)"></div></div>
  <div class="abs" style="left:6px;top:14px;font-size:12px;line-height:16px;font-weight:bold;color:#fff;white-space:nowrap">62</div>
</div>
<div class="abs" style="left:1344px;top:680px;width:120px;height:50px;border-radius:25px;background:#fff;box-shadow:0 3px 7px rgba(0,0,0,.42)">
  <div class="abs" style="left:6px;top:6px;width:38px;height:38px;border-radius:50%;background:#2cc774"></div>
  <svg class="abs" style="left:6px;top:6px" width="38" height="38" viewBox="0 0 38 38"><g fill="none" stroke="#fff" stroke-width="2.4" stroke-linecap="round"><path d="M6.5 15.5 Q19 4 31.5 15.5"/><path d="M10.5 20 Q19 12.5 27.5 20"/><path d="M14.5 24.5 Q19 20.5 23.5 24.5"/></g><circle cx="19" cy="28.5" r="2" fill="#fff"/></svg>
  <svg class="abs" style="left:49px;top:9px" width="12" height="13" viewBox="0 0 12 13"><path d="M3.5 1 V11 M0.8 8 L3.5 11.5" stroke="#27b868" stroke-width="1.6" fill="none"/><path d="M7.5 12 V2 M7.5 1 L10.6 5" stroke="#f5921e" stroke-width="1.6" fill="none"/></svg>
  <div class="abs" style="left:65px;top:8px;font-size:11px;line-height:14px;color:#666;white-space:nowrap">0.00K</div>
  <svg class="abs" style="left:51px;top:28px" width="9" height="13" viewBox="0 0 9 13"><rect x="0.9" y="2.6" width="6.6" height="9.6" fill="none" stroke="#27b868" stroke-width="1.3"/><rect x="1.6" y="0.6" width="2.8" height="2" fill="#27b868"/><rect x="0.9" y="7" width="6.6" height="5.2" fill="#27b868"/></svg>
  <div class="abs" style="left:65px;top:28px;font-size:11px;line-height:14px;color:#666">0</div>
</div>
</body>
</html>
